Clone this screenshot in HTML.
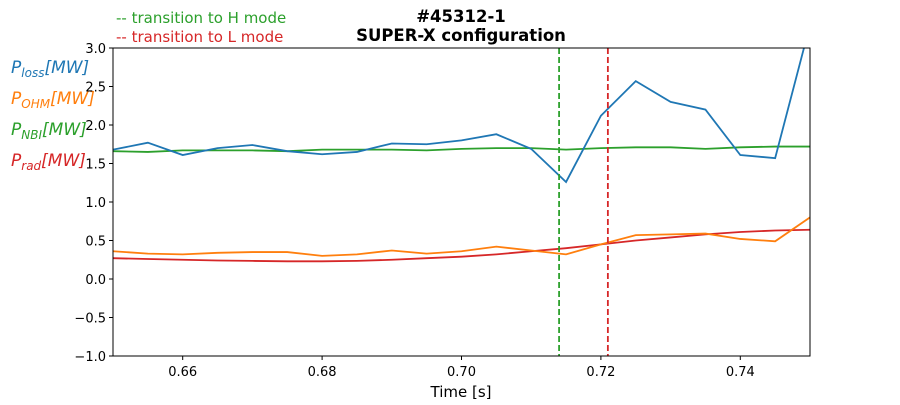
<!DOCTYPE html>
<html><head><meta charset="utf-8"><style>
body{margin:0;background:#fff;}
svg text{font-family:"DejaVu Sans","Liberation Sans",sans-serif;}
</style></head><body>
<svg id="chart" width="900" height="400" xmlns="http://www.w3.org/2000/svg">
<defs><clipPath id="clip"><rect x="113" y="48" width="697" height="308"/></clipPath></defs>
<text x="461" y="22" text-anchor="middle" font-size="16.5" font-weight="bold">#45312-1</text>
<text x="461" y="41" text-anchor="middle" font-size="16.5" font-weight="bold">SUPER-X configuration</text>
<text x="116" y="23" font-size="15" fill="#2ca02c">-- transition to H mode</text>
<text x="116" y="42" font-size="15" fill="#d62728">-- transition to L mode</text>
<g font-size="17" font-style="italic">
<text x="11" y="73" fill="#1f77b4">P<tspan font-size="12" dy="4">loss</tspan><tspan dy="-4">[MW]</tspan></text>
<text x="11" y="104" fill="#ff7f0e">P<tspan font-size="12" dy="4">OHM</tspan><tspan dy="-4">[MW]</tspan></text>
<text x="11" y="135" fill="#2ca02c">P<tspan font-size="12" dy="4">NBI</tspan><tspan dy="-4">[MW]</tspan></text>
<text x="11" y="166" fill="#d62728">P<tspan font-size="12" dy="4">rad</tspan><tspan dy="-4">[MW]</tspan></text>
</g>
<g id="axes"></g>
<g id="series" clip-path="url(#clip)"></g>
<rect x="113" y="48" width="697" height="308" fill="none" stroke="#000" stroke-width="1"/>
<text x="461" y="397" text-anchor="middle" font-size="15">Time [s]</text>
</svg>
<script>
const times=[0.650,0.655,0.660,0.665,0.670,0.675,0.680,0.685,0.690,0.695,0.700,0.705,0.710,0.715,0.720,0.725,0.730,0.735,0.740,0.745,0.750];
const ploss=[1.68,1.77,1.61,1.70,1.74,1.66,1.62,1.65,1.76,1.75,1.80,1.88,1.69,1.26,2.12,2.57,2.30,2.20,1.61,1.57,3.30];
const pohm=[0.36,0.33,0.32,0.34,0.35,0.35,0.30,0.32,0.37,0.33,0.36,0.42,0.37,0.32,0.45,0.57,0.58,0.59,0.52,0.49,0.80];
const pnbi=[1.66,1.65,1.67,1.67,1.67,1.66,1.68,1.68,1.68,1.67,1.69,1.70,1.70,1.68,1.70,1.71,1.71,1.69,1.71,1.72,1.72];
const prad=[0.27,0.26,0.25,0.24,0.235,0.23,0.23,0.235,0.25,0.27,0.29,0.32,0.36,0.40,0.45,0.50,0.54,0.58,0.61,0.63,0.64];
const hModeTime=0.714, lModeTime=0.721;
const xTicks=[0.66,0.68,0.70,0.72,0.74];
const yTicks=[-1.0,-0.5,0.0,0.5,1.0,1.5,2.0,2.5,3.0];
const NS="http://www.w3.org/2000/svg";
const X=t=>113+(t-0.65)/0.1*697;
const Y=v=>356-(v+1)/4*308;
function mk(tag,attrs,parent){const e=document.createElementNS(NS,tag);for(const k in attrs)e.setAttribute(k,attrs[k]);parent.appendChild(e);return e;}
const ax=document.getElementById('axes'), sr=document.getElementById('series');
xTicks.forEach(t=>{
  const l=mk('line',{x1:X(t),x2:X(t),y1:356,y2:360,stroke:'#000'},ax);
  
  
  const tx=mk('text',{x:X(t),y:376,'text-anchor':'middle','font-size':13},ax);
  tx.textContent=t.toFixed(2);
  
  
});
yTicks.forEach(v=>{
  const l=mk('line',{x1:109,x2:113,y1:Y(v),y2:Y(v),stroke:'#000'},ax);
  
  
  const tx=mk('text',{x:106,y:Y(v)+5,'text-anchor':'end','font-size':13},ax);
  tx.textContent=v.toFixed(1).replace('-','\u2212');
  
  
});
function line(vals,color,name){
  const p=mk('polyline',{points:vals.map((v,i)=>X(times[i])+','+Y(v)).join(' '),fill:'none',stroke:color,'stroke-width':1.8},sr);
  
  
}
line(pnbi,'#2ca02c','pnbi-line');
line(ploss,'#1f77b4','ploss-line');
line(prad,'#d62728','prad-line');
line(pohm,'#ff7f0e','pohm-line');
const h=mk('line',{x1:X(hModeTime),x2:X(hModeTime),y1:48,y2:356,stroke:'#2ca02c','stroke-width':1.8,'stroke-dasharray':'6,3'},sr);


const lm=mk('line',{x1:X(lModeTime),x2:X(lModeTime),y1:48,y2:356,stroke:'#d62728','stroke-width':1.8,'stroke-dasharray':'6,3'},sr);


</script>
</body></html>
